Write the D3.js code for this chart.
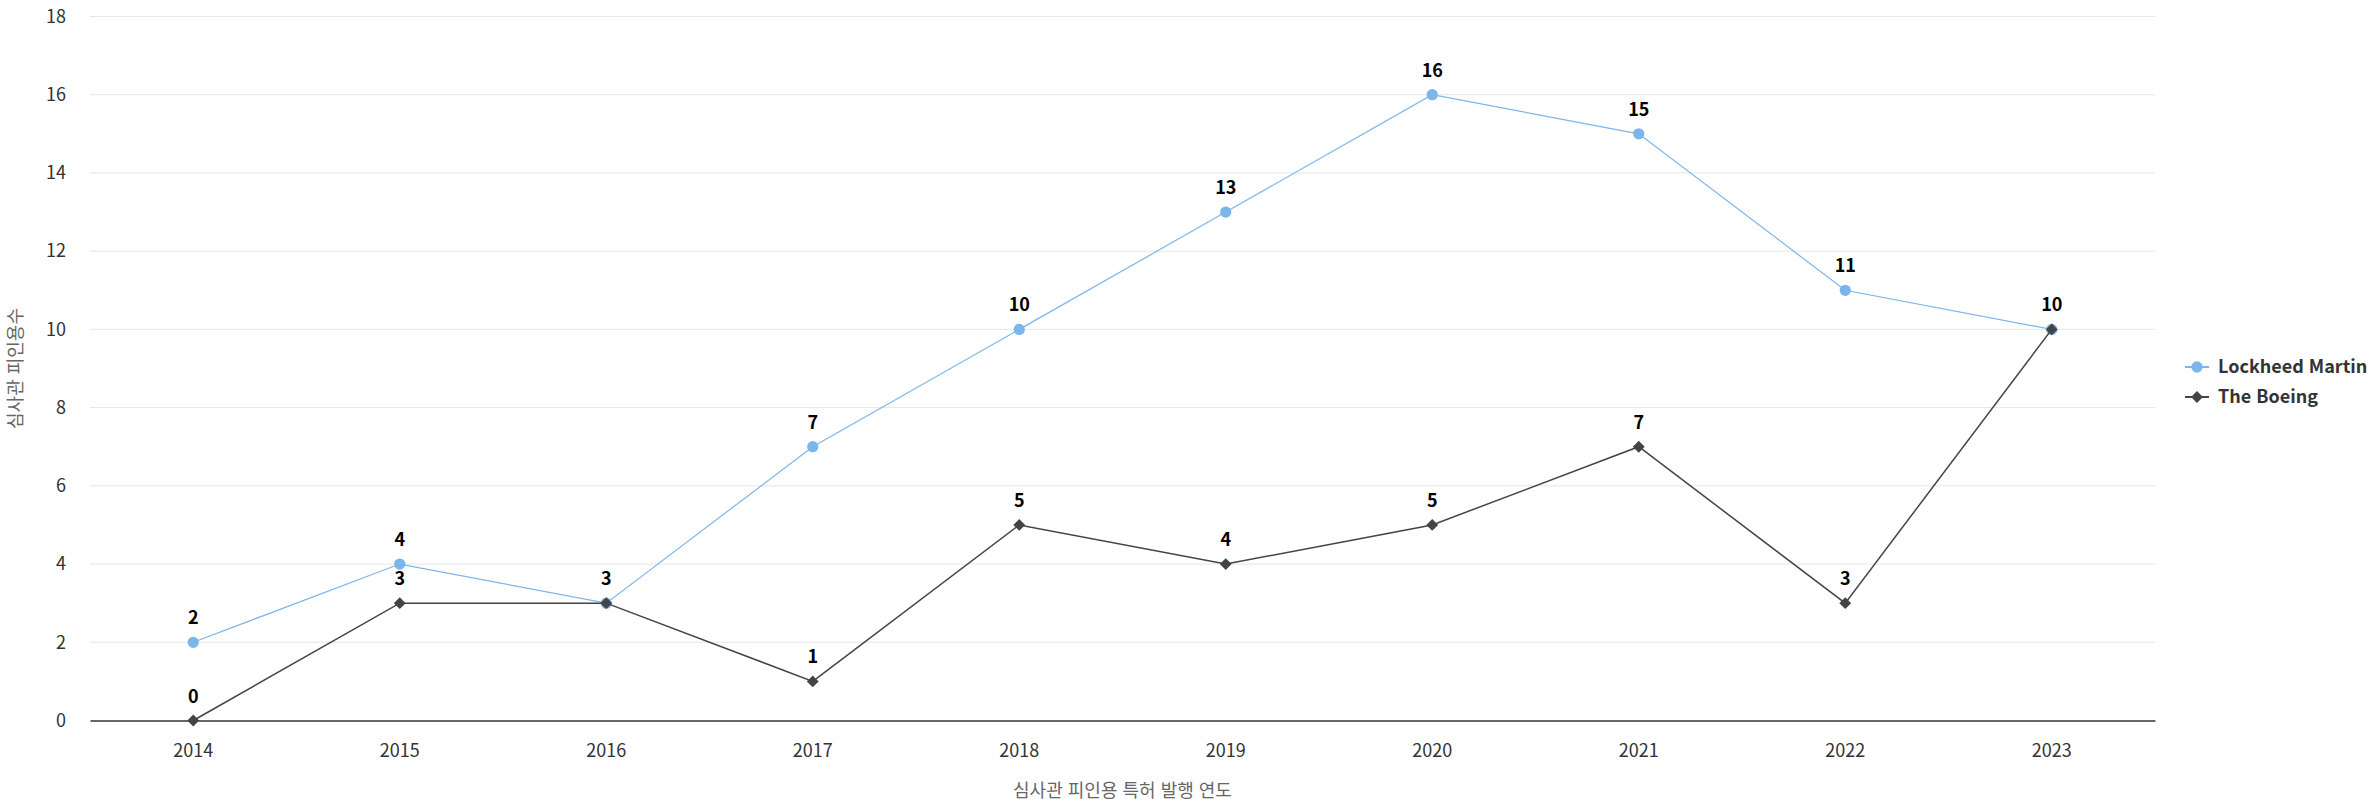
<!DOCTYPE html>
<html lang="ko">
<head>
    <meta charset="utf-8">
    <title>심사관 피인용수</title>
    <script src="https://cdn.jsdelivr.net/npm/d3@7"></script>
    <style type="text/css">
        body { margin: 0; background: #fff; }
        text { font-family: "Noto Sans CJK KR", "Noto Sans", sans-serif; }
    </style>
</head>
<body>
    <svg width="2374" height="808"></svg>
    <script>

        var years = ["2014", "2015", "2016", "2017", "2018", "2019", "2020", "2021", "2022", "2023"];
        var lockheed = [2, 4, 3, 7, 10, 13, 16, 15, 11, 10];
        var boeing = [0, 3, 3, 1, 5, 4, 5, 7, 3, 10];
        var yTicks = [0, 2, 4, 6, 8, 10, 12, 14, 16, 18];

        var series = [
            { name: "Lockheed Martin", values: lockheed, color: "#7cb5ec", symbol: d3.symbolCircle, size: 100, rot: 0 },
            { name: "The Boeing", values: boeing, color: "#434348", symbol: d3.symbolSquare, size: 70, rot: 45 }
        ];

        var svg = d3.select("svg"),
            plotLeft = 90, plotRight = 2155, plotTop = 16.5, plotBottom = 720.5;

        var xScale = d3.scaleBand().domain(years).range([plotLeft, plotRight]),
            yScale = d3.scaleLinear().domain([0, 18]).range([plotBottom, plotTop]);

        var cx = function(i) { return xScale(years[i]) + xScale.bandwidth() / 2; };

        // grid
        svg.append("g")
           .selectAll("line")
           .data(yTicks.slice(1))
           .enter().append("line")
           .attr("x1", plotLeft).attr("x2", plotRight)
           .attr("y1", function(d) { return yScale(d); })
           .attr("y2", function(d) { return yScale(d); })
           .attr("stroke", "#e6e6e6");

        // y axis labels
        var yAxis = svg.append("g")
           .attr("transform", "translate(" + plotLeft + ",0)")
           .call(d3.axisLeft(yScale).tickValues(yTicks).tickSize(0).tickPadding(24));
        yAxis.select(".domain").remove();
        yAxis.selectAll("text").attr("font-size", 18).attr("fill", "#333");

        // x axis
        var xAxis = svg.append("g")
           .attr("transform", "translate(0," + plotBottom + ")")
           .call(d3.axisBottom(xScale).tickSize(0).tickPadding(24));
        xAxis.select(".domain").attr("stroke", "#333").attr("stroke-width", 1.5);
        xAxis.selectAll("text").attr("font-size", 18).attr("fill", "#333");

        // axis titles
        svg.append("text")
           .attr("x", (plotLeft + plotRight) / 2).attr("y", 797)
           .attr("text-anchor", "middle")
           .attr("font-size", 18).attr("fill", "#666")
           .text("심사관 피인용 특허 발행 연도");

        svg.append("text")
           .attr("transform", "translate(22," + ((plotTop + plotBottom) / 2) + ") rotate(-90)")
           .attr("text-anchor", "middle")
           .attr("font-size", 18).attr("fill", "#666")
           .text("심사관 피인용수");

        var line = d3.line()
            .x(function(d, i) { return cx(i); })
            .y(function(d) { return yScale(d); });

        series.forEach(function(s) {
            svg.append("path")
               .datum(s.values)
               .attr("d", line)
               .attr("fill", "none")
               .attr("stroke", s.color)
               .attr("stroke-width", s.name == "The Boeing" ? 1.5 : 1.2);

            svg.append("g")
               .selectAll("path")
               .data(s.values)
               .enter().append("path")
               .attr("transform", function(d, i) { return "translate(" + cx(i) + "," + yScale(d) + ") rotate(" + s.rot + ")"; })
               .attr("d", d3.symbol().type(s.symbol).size(s.size))
               .attr("fill", s.color);
        });

        // data labels (skip overlapping duplicates)
        series.forEach(function(s, k) {
            s.values.forEach(function(v, i) {
                if (k == 1 && lockheed[i] == v) return;
                svg.append("text")
                   .attr("x", cx(i)).attr("y", yScale(v) - 18)
                   .attr("text-anchor", "middle")
                   .attr("font-size", 18).attr("font-weight", "bold")
                   .attr("fill", "#000")
                   .text(v);
            });
        });

        // legend
        var legend = svg.append("g").attr("transform", "translate(2185,367)");
        series.forEach(function(s, k) {
            var g = legend.append("g").attr("transform", "translate(0," + (k * 30) + ")");
            g.append("line").attr("x1", 0).attr("x2", 24).attr("stroke", s.color).attr("stroke-width", 2);
            g.append("path")
             .attr("transform", "translate(12,0) rotate(" + s.rot + ")")
             .attr("d", d3.symbol().type(s.symbol).size(s.size))
             .attr("fill", s.color);
            g.append("text")
             .attr("x", 33).attr("dy", "0.35em")
             .attr("font-size", 18).attr("font-weight", "bold").attr("fill", "#333")
             .text(s.name);
        });

    </script>
</body>
</html>
